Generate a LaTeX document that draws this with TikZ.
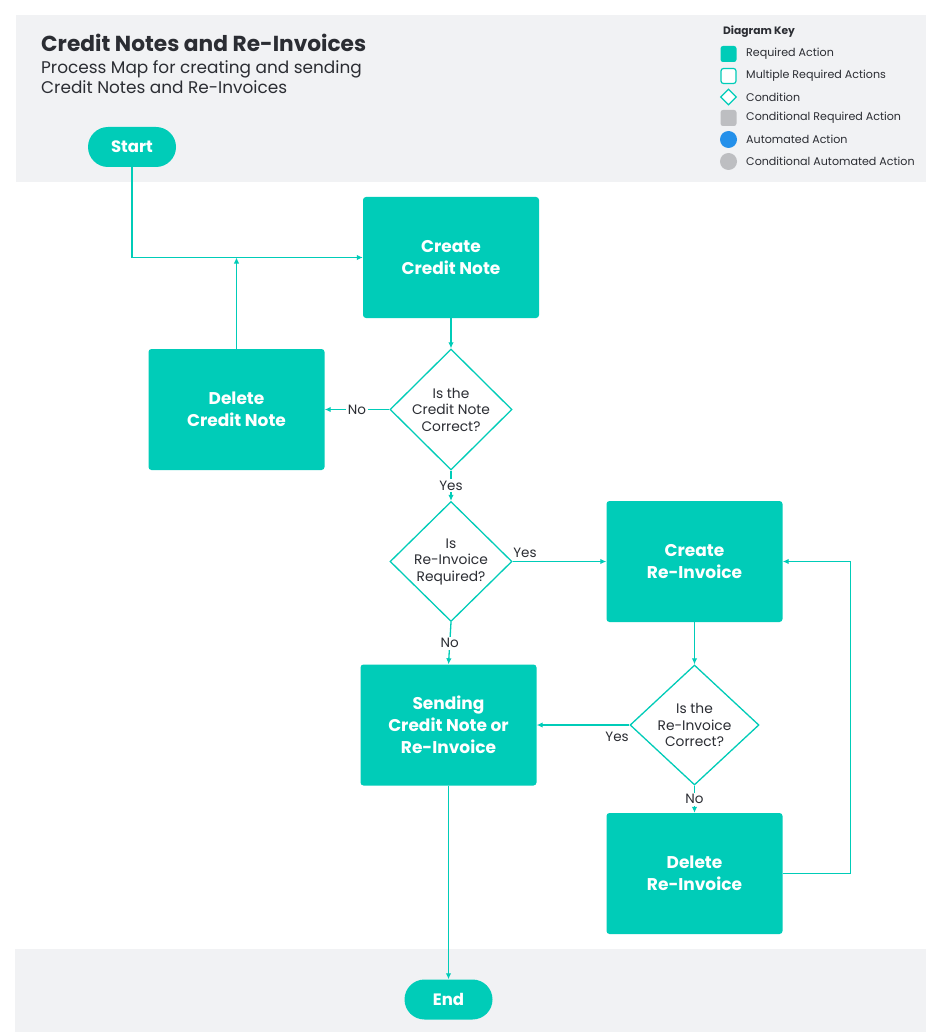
\documentclass[tikz,border=0pt]{standalone}
\usepackage{fontspec}
\setmainfont{Poppins}
\usetikzlibrary{arrows.meta,shapes.geometric}
\definecolor{tealA}{HTML}{00CCB8}
\definecolor{bandC}{HTML}{F1F2F4}
\definecolor{inkC}{HTML}{2B2D33}
\definecolor{keygray}{HTML}{BDBEC1}
\definecolor{keyblue}{HTML}{2490EA}
\tikzset{
  action/.style={rectangle, rounded corners=3pt, fill=tealA, minimum width=176pt, minimum height=121pt, text=white, font=\bfseries\fontsize{17}{22}\selectfont, align=center, inner sep=0pt},
  cond/.style={diamond, draw=tealA, line width=1.3pt, fill=white, inner sep=0pt},
  condtext/.style={font=\fontsize{13.8}{16.5}\selectfont, align=center, text=inkC, inner sep=0pt},
  pill/.style={rectangle, rounded corners=20pt, fill=tealA, minimum width=88pt, minimum height=40pt, text=white, font=\bfseries\fontsize{16.5}{20}\selectfont, inner sep=0pt},
  flow/.style={draw=tealA, line width=1.3pt, -{Latex[length=6pt,width=5.5pt]}},
  lbl/.style={fill=white, inner sep=1.5pt, font=\fontsize{13.5}{15}\selectfont, text=inkC},
  sidelbl/.style={inner sep=0pt, font=\fontsize{13.5}{15}\selectfont, text=inkC},
  keytext/.style={anchor=west, inner sep=0pt, font=\fontsize{11.1}{13}\selectfont, text=inkC},
}
\begin{document}
\begin{tikzpicture}[x=1pt,y=-1pt]
\useasboundingbox (0,0) rectangle (926,1032);
\fill[white] (0,0) rectangle (926,1032);
\fill[bandC] (16,15) rectangle (926,182);
\fill[bandC] (15,949) rectangle (926,1032);

% title
\node[anchor=base west, inner sep=0pt, text=inkC, font=\bfseries\fontsize{21.7}{24}\selectfont] (title) at (41,52) {Credit Notes and Re-Invoices};
\node[anchor=base west, inner sep=0pt, text=inkC, font=\fontsize{16.9}{20}\selectfont] (sub1) at (41,74) {Process Map for creating and sending};
\node[anchor=base west, inner sep=0pt, text=inkC, font=\fontsize{16.9}{20}\selectfont] (sub2) at (41,94) {Credit Notes and Re-Invoices};

% legend
\node[anchor=west, inner sep=0pt, text=inkC, font=\bfseries\fontsize{10.7}{13}\selectfont] (keytitle) at (723,32) {Diagram Key};
\node[rectangle, rounded corners=2.5pt, fill=tealA, minimum size=16pt, inner sep=0pt] (k1) at (728.5,54) {};
\node[keytext] (k1t) at (746,54) {Required Action};
\node[rectangle, rounded corners=2.5pt, draw=tealA, line width=1.2pt, fill=white, minimum size=15pt, inner sep=0pt] (k2) at (728.5,76) {};
\node[keytext] (k2t) at (746,76) {Multiple Required Actions};
\node[diamond, draw=tealA, line width=1.2pt, fill=white, minimum size=16pt, inner sep=0pt] (k3) at (728.5,97) {};
\node[keytext] (k3t) at (746,97) {Condition};
\node[rectangle, rounded corners=2.5pt, fill=keygray, minimum size=16pt, inner sep=0pt] (k4) at (728.5,118) {};
\node[keytext] (k4t) at (746,118) {Conditional Required Action};
\node[circle, fill=keyblue, minimum size=17pt, inner sep=0pt] (k5) at (728.5,139.5) {};
\node[keytext] (k5t) at (746,139) {Automated Action};
\node[circle, fill=keygray, minimum size=17pt, inner sep=0pt] (k6) at (728.5,161.5) {};
\node[keytext] (k6t) at (746,161) {Conditional Automated Action};

% nodes
\node[pill] (start) at (132,147) {Start};
\node[action] (ccn) at (451,257.5) {Create\\Credit Note};
\node[action] (dcn) at (236.5,409.5) {Delete\\Credit Note};
\node[cond, minimum width=122pt, minimum height=121pt] (d1) at (451,409.5) {};
\node[condtext] (d1t) at (d1) {Is the\\Credit Note\\Correct?};
\node[cond, minimum width=122pt, minimum height=120pt] (d2) at (451,561.5) {};
\node[condtext] (d2t) at (d2) {Is\\Re-Invoice\\Required?};
\node[action] (cri) at (694.5,561.5) {Create\\Re-Invoice};
\node[action] (send) at (448.5,725) {Sending\\Credit Note or\\Re-Invoice};
\node[cond, minimum width=129pt, minimum height=120pt] (d3) at (694.5,725) {};
\node[condtext] (d3t) at (d3) {Is the\\Re-Invoice\\Correct?};
\node[action] (dri) at (694.5,873.5) {Delete\\Re-Invoice};
\node[pill] (end) at (448.5,999.5) {End};

% connectors
\draw[flow] (start.south) |- (ccn.west);
\draw[flow] (dcn.north) -- (dcn.north |- ccn.west);
\draw[flow] (ccn.south) -- (d1.north);
\draw[flow] (d1.west) -- node[lbl] {No} (dcn.east);
\draw[flow] (d1.south) -- node[lbl] {Yes} (d2.north);
\draw[flow] (d2.east) -- node[pos=0, sidelbl, anchor=base west, yshift=4pt] {Yes} (cri.west);
\draw[flow] (d2.south) -- node[lbl] {No} (send.north);
\draw[flow] (cri.south) -- (d3.north);
\draw[flow] (d3.west) -- node[pos=0, sidelbl, anchor=north east, yshift=-6pt] {Yes} (send.east);
\draw[flow] (d3.south) -- node[lbl] {No} (dri.north);
\draw[flow] (dri.east) -- ++(68,0) |- (cri.east);
\draw[flow] (send.south) -- (end.north);
\end{tikzpicture}
\end{document}
